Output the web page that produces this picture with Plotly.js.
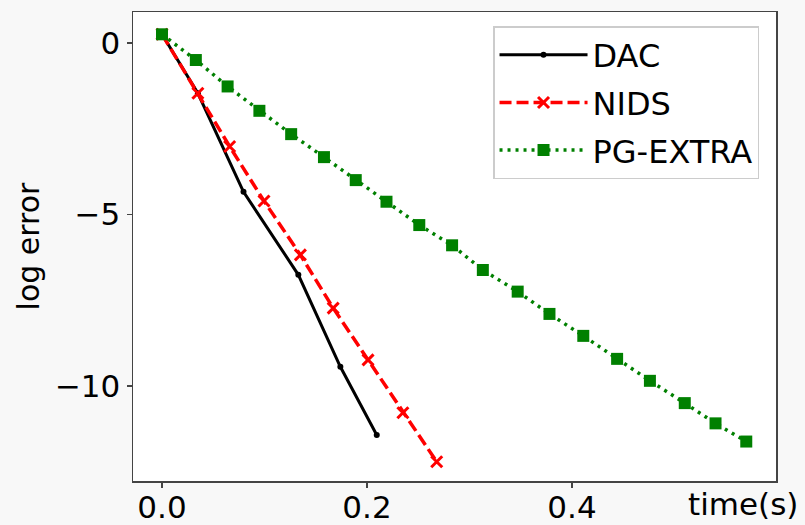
<!DOCTYPE html>
<html>
<head>
<meta charset="utf-8">
<script src="https://cdn.plot.ly/plotly-3.0.1.min.js"></script>
<style>html,body{margin:0;padding:0;background:#f8f8f8;}#chart{width:805px;height:525px;}</style>
</head>
<body>
<div id="chart"></div>
<script>
// DAC
const dacTime = [0, 0.035, 0.0795, 0.133, 0.174, 0.2095];
const dacErr  = [0.25, -1.47, -4.34, -6.76, -9.44, -11.43];
// NIDS
const nidsTime = [0, 0.035, 0.066, 0.0995, 0.135, 0.167, 0.201, 0.235, 0.268];
const nidsErr  = [0.25, -1.47, -3.02, -4.61, -6.18, -7.73, -9.24, -10.78, -12.21];
// PG-EXTRA
const pgTime = [0, 0.033, 0.064, 0.095, 0.126, 0.158, 0.189, 0.219, 0.251, 0.283,
                0.313, 0.347, 0.378, 0.411, 0.444, 0.476, 0.510, 0.540, 0.570];
const pgErr  = [0.25, -0.50, -1.27, -1.98, -2.66, -3.33, -4.00, -4.63, -5.31, -5.90,
                -6.62, -7.25, -7.90, -8.54, -9.21, -9.85, -10.50, -11.09, -11.62];
const xTickVals = [0, 0.2, 0.4];
const xTickText = ['0.0', '0.2', '0.4'];
const yTickVals = [0, -5, -10];

const FONT = 'DejaVu Sans, sans-serif';

const traces = [
  {x: dacTime, y: dacErr, name: 'DAC', mode: 'lines+markers', legendgroup: 'a',
   line: {color: '#000000', width: 3}, marker: {color: '#000000', size: 6, symbol: 'circle'}},
  {x: nidsTime, y: nidsErr, name: 'NIDS', mode: 'lines+markers', legendgroup: 'b',
   line: {color: '#ff0000', width: 3.5, dash: '12px,5px'}, marker: {color: '#ff0000', size: 11, symbol: 'x-thin', line: {color: '#ff0000', width: 3}}},
  {x: pgTime, y: pgErr, name: 'PG-EXTRA', mode: 'lines+markers', legendgroup: 'c',
   line: {color: '#008000', width: 3.5, dash: '3px,5px'}, marker: {color: '#008000', size: 12, symbol: 'square'}}
];

const layout = {
  width: 805, height: 525,
  margin: {l: 133, r: 29, t: 12, b: 44},
  paper_bgcolor: '#f8f8f8', plot_bgcolor: '#ffffff',
  font: {family: FONT, size: 31, color: '#000'},
  showlegend: true,
  legend: {x: 0.9736, xanchor: 'right', y: 0.970, yanchor: 'top',
           bgcolor: '#ffffff', bordercolor: '#cccccc', borderwidth: 1.5,
           font: {family: FONT, size: 32, color: '#000'},
           traceorder: 'grouped', tracegroupgap: 3, itemwidth: 88},
  xaxis: {range: [-0.0283, 0.599], tickvals: xTickVals, ticktext: xTickText,
          ticks: 'outside', ticklen: 5, tickwidth: 1.5, tickcolor: '#444',
          showline: true, linecolor: '#444', linewidth: 1.5, mirror: true,
          ticklabelstandoff: -7,
          showgrid: false, zeroline: false, tickfont: {family: FONT, size: 31}},
  yaxis: {range: [-12.77, 0.90], tickvals: yTickVals,
          ticks: 'outside', ticklen: 5, tickwidth: 1.5, tickcolor: '#444',
          showline: true, linecolor: '#444', linewidth: 1.5, mirror: true,
          showgrid: false, zeroline: false, tickfont: {family: FONT, size: 31},
          title: {text: 'log error', font: {family: FONT, size: 30}, standoff: 6}},
  annotations: [{text: 'time(s)', xref: 'paper', yref: 'paper', x: 1.0373, y: -0.049,
                 xanchor: 'right', yanchor: 'middle', showarrow: false,
                 font: {family: FONT, size: 31, color: '#000'}}]
};

Plotly.newPlot('chart', traces, layout, {displayModeBar: false, staticPlot: true});
</script>
</body>
</html>
